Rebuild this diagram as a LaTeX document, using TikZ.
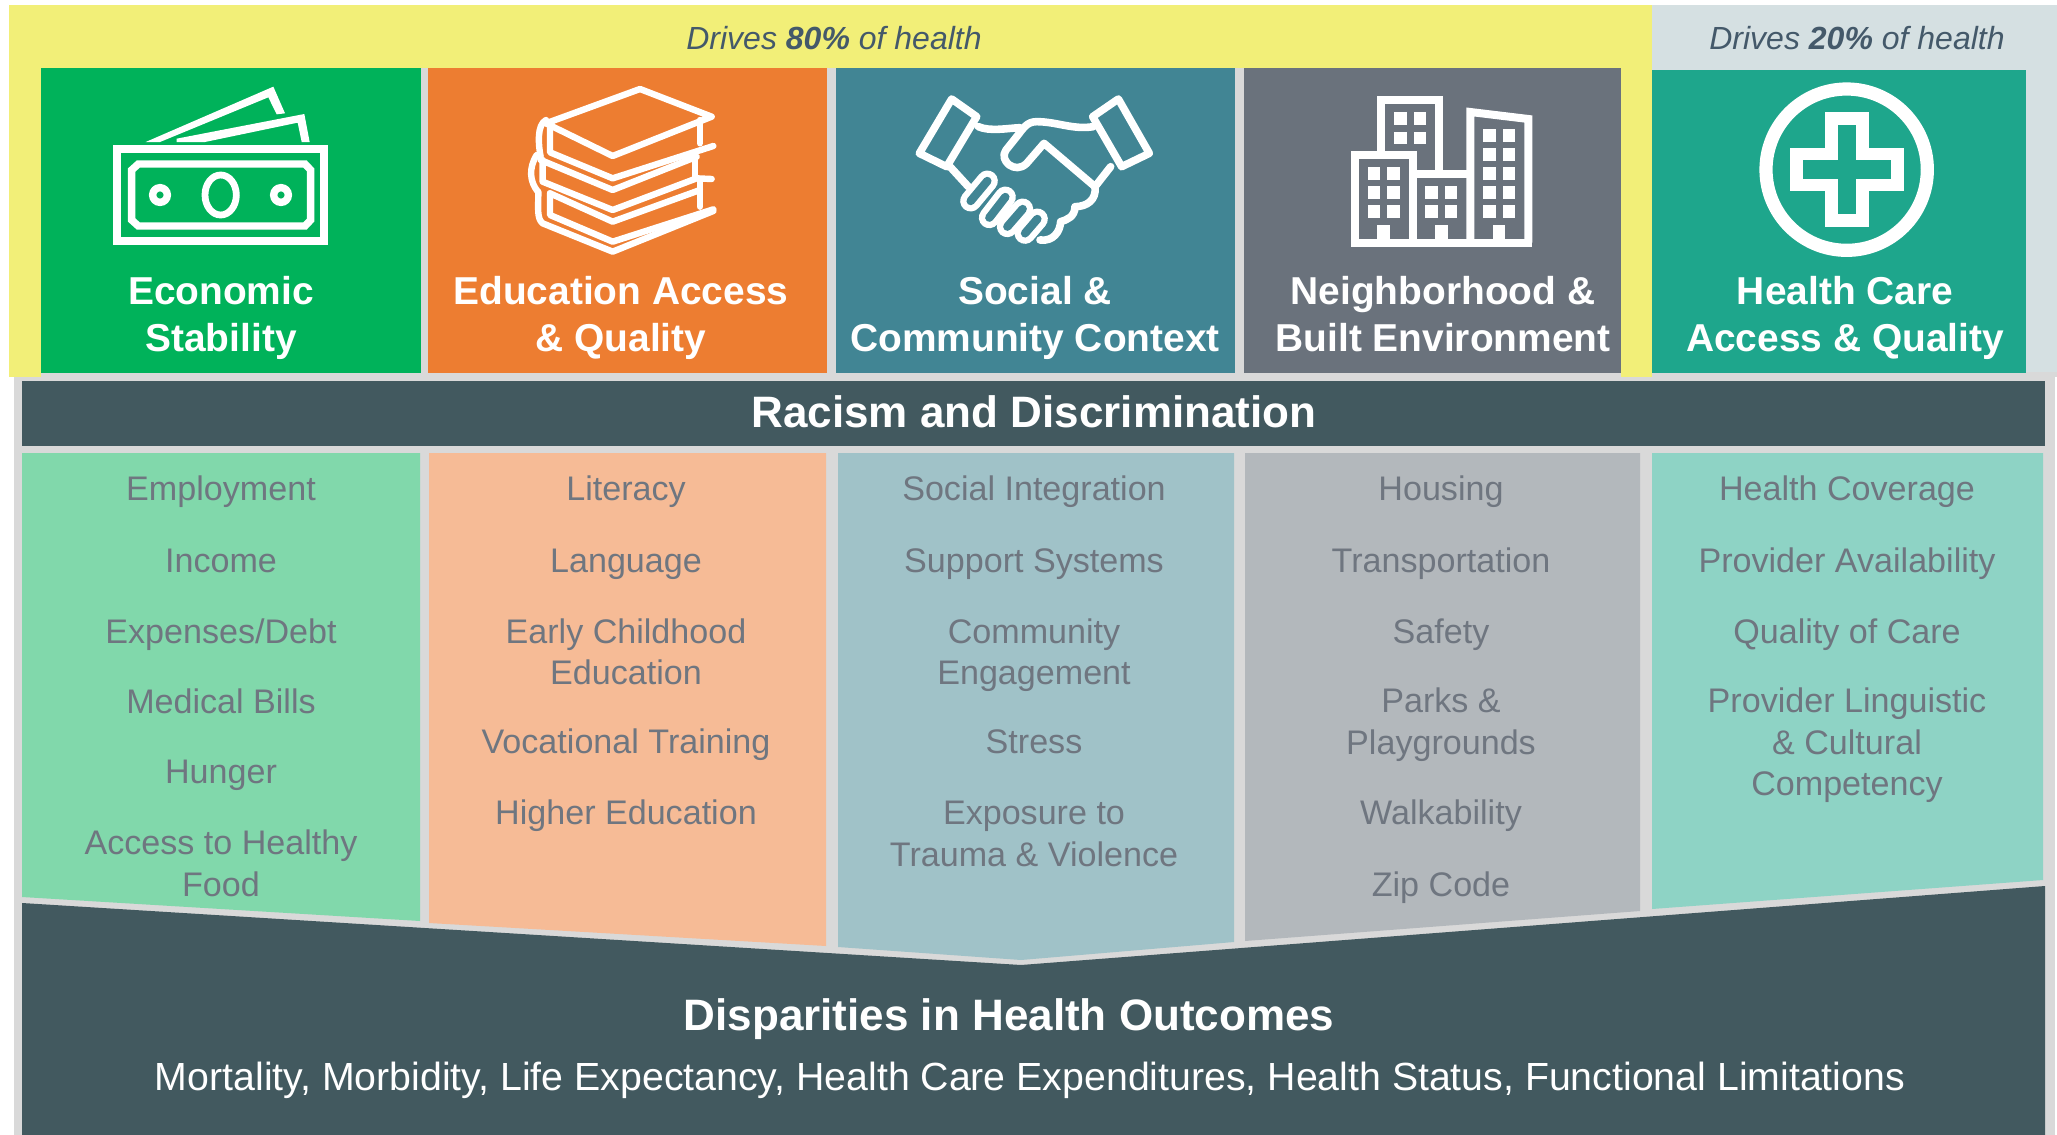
\documentclass[tikz,border=0pt]{standalone}
\usepackage{fontspec}
\setmainfont{Liberation Sans}
\definecolor{cgreen}{HTML}{00B25A}
\definecolor{corange}{HTML}{ED7D31}
\definecolor{cteal}{HTML}{418594}
\definecolor{cslate}{HTML}{6A727C}
\definecolor{cmint}{HTML}{1EA68C}
\definecolor{lgreen}{HTML}{81D8AB}
\definecolor{lorange}{HTML}{F6BB96}
\definecolor{lteal}{HTML}{A0C2C8}
\definecolor{lslate}{HTML}{B3B8BC}
\definecolor{lmint}{HTML}{8ED3C5}
\definecolor{cdark}{HTML}{42595F}
\definecolor{cyellow}{HTML}{F2EF78}
\definecolor{cband}{HTML}{D5E0E2}
\definecolor{cframe}{HTML}{D9D9D9}
\definecolor{ctext}{HTML}{6F7680}
\definecolor{cdrive}{HTML}{44596A}
\tikzset{
  item/.style={text=ctext,font=\fontsize{17.05}{20.8}\selectfont,align=center,inner sep=0pt,yshift=-2pt},
  head/.style={text=white,font=\fontsize{19.45}{23.5}\selectfont\bfseries,align=center,inner sep=0pt,yshift=-2.5pt},
  drive/.style={text=cdrive,font=\fontsize{16}{20}\selectfont\itshape,inner sep=0pt},
  bartitle/.style={text=white,font=\fontsize{22}{26}\selectfont\bfseries,inner sep=0pt},
  barsub/.style={text=white,font=\fontsize{19.63}{23}\selectfont,inner sep=0pt},
  icon/.style={draw=white,line join=miter,fill=none},
  win/.style={fill=white,draw=none}
}
\newcommand{\st}{\strut}
\begin{document}
\begin{tikzpicture}[x=0.5pt,y=-0.5pt]
\useasboundingbox (0,0) rectangle (2057,1135);
% bands
\fill[cband] (1652,5) rectangle (2057,376);
\fill[cyellow] (9,5) rectangle (1652,377);
\fill[cframe] (41,68) rectangle (1621,377);
\fill[cframe] (1652,372) rectangle (2057,377);
\fill[cframe] (14,377) rectangle (2055,1135);
% tiles
\fill[cgreen] (41,68) rectangle (421,373);
\fill[corange] (428,68) rectangle (827,373);
\fill[cteal] (836,68) rectangle (1235,373);
\fill[cslate] (1244,68) rectangle (1621,373);
\fill[cmint] (1652,70) rectangle (2026,373);
% racism bar
\fill[cdark] (22,381) rectangle (2045,446);
% columns
\fill[lgreen] (22,453) -- (420,453) -- (420,921) -- (22,897) -- cycle;
\fill[lorange] (429,453) -- (826,453) -- (826,946) -- (429,923) -- cycle;
\fill[lteal] (838,453) -- (1234,453) -- (1234,942) -- (1021,960) -- (838,947) -- cycle;
\fill[lslate] (1245,453) -- (1640,453) -- (1640,911) -- (1245,941) -- cycle;
\fill[lmint] (1652,453) -- (2043,453) -- (2043,880) -- (1652,909) -- cycle;
% bottom
\fill[cdark] (22,903) -- (1021,965) -- (2045,886) -- (2045,1135) -- (22,1135) -- cycle;

% money icon
\begin{scope}[shift={(105,80)},x=0.16667pt,y=-0.16667pt]
\draw[icon,line width=4pt] (36,208) rectangle (658,482);
\draw[icon,line width=3.7pt] (100,252) -- (600,252) -- (617,270) -- (617,420) -- (600,438) -- (100,438) -- (80,420) -- (80,270) -- cycle;
\draw[icon,line width=3.4pt] (347,345) ellipse [x radius=47,y radius=60];
\draw[icon,line width=3.7pt] (165,345) circle [radius=22];
\draw[icon,line width=3.7pt] (528,345) circle [radius=22];
\fill[white] (122,186) -- (165,186) -- (490,52) -- (515,103) -- (540,100) -- (505,20) -- cycle;
\fill[white] (215,186) -- (300,186) -- (578,128) -- (590,186) -- (614,186) -- (598,102) -- (215,176) -- cycle;
\end{scope}

% books icon
\begin{scope}[shift={(520,75)},x=0.16667pt,y=-0.16667pt,every path/.style={icon,line width=3.2pt,line join=round,line cap=round}]
\draw (78,145) -- (360,42) -- (575,125) -- (278,243) -- cycle;
\draw (90,160) -- (90,232) -- (278,310) -- (580,213);
\draw (540,135) -- (540,205);
\draw (78,135) .. controls (50,150) and (55,210) .. (62,245);
\draw (62,255) -- (278,345) -- (530,245);
\draw (68,255) -- (68,320) -- (278,405) -- (530,310) -- (575,312);
\draw (525,245) -- (525,310);
\draw (50,240) .. controls (25,280) and (30,320) .. (52,348);
\draw (90,355) -- (278,440) -- (540,345);
\draw (90,355) -- (90,420) -- (278,500) -- (580,403);
\draw (540,320) -- (540,395);
\draw (55,350) .. controls (55,400) and (50,430) .. (68,445) -- (278,530) -- (580,408);
\end{scope}

% handshake icon
\begin{scope}[shift={(900,85)},x=0.16667pt,y=-0.16667pt,every path/.style={icon,line width=3.8pt,line join=round,line cap=round}]
\draw (155,42) -- (230,95) -- (140,245) -- (58,205) -- cycle;
\draw (655,42) -- (578,95) -- (665,245) -- (748,205) -- cycle;
\draw (235,125) .. controls (270,140) and (320,130) .. (360,128);
\draw (580,125) .. controls (520,135) and (470,110) .. (410,110) .. controls (380,110) and (370,130) .. (350,155) -- (318,195) .. controls (295,225) and (345,270) .. (380,235) -- (432,175) -- (585,305);
\draw (150,245) -- (205,305);
\draw (632,245) -- (585,305);
\draw (585,305) .. controls (590,345) and (560,365) .. (525,365) .. controls (525,395) and (500,405) .. (482,410) .. controls (480,440) and (460,470) .. (420,465);
\end{scope}
\begin{scope}[shift={(900,85)},x=0.16667pt,y=-0.16667pt,line cap=round]
\foreach \a/\b/\c/\d in {262/288/212/348,316/336/268/398,368/372/322/425,412/402/375/445}{
  \draw[white,line width=10.5pt] (\a,\b) -- (\c,\d);}
\foreach \a/\b/\c/\d in {262/288/212/348,316/336/268/398,368/372/322/425,412/402/375/445}{
  \draw[cteal,line width=4.2pt] (\a,\b) -- (\c,\d);}
\end{scope}

% buildings icon
\begin{scope}[shift={(1340,85)},x=0.16667pt,y=-0.16667pt]
\draw[icon,line width=4pt] (45,473) -- (45,209) -- (218,209) -- (218,473);
\draw[icon,line width=4pt] (124,209) -- (124,45) -- (297,45) -- (297,267);
\draw[icon,line width=4pt] (218,267) -- (391,267);
\draw[icon,line width=4pt] (391,473) -- (391,81) -- (565,102) -- (565,473);
\draw[icon,line width=4pt] (33,473) -- (577,473);
\foreach \p/\q in {162/82,221/82,162/140,221/140,
  83/246,141/246,83/303,141/303,83/361,141/361,
  256/303,314/303,256/361,314/361,
  430/132,488/132,430/189,488/189,430/246,488/246,430/303,488/303,430/361,488/361}{
  \fill[win] (\p,\q) rectangle ++(38,38);}
\foreach \p in {112,285,458}{\fill[win] (\p,420) rectangle ++(38,45);}
\end{scope}

% cross icon
\begin{scope}[shift={(1740,70)},x=0.16667pt,y=-0.16667pt]
\draw[icon,line width=6.6pt] (320,299) circle [radius=242];
\draw[icon,line width=6.4pt] (275,146) -- (367,146) -- (367,252) -- (473,252) -- (473,345) -- (367,345) -- (367,452) -- (275,452) -- (275,345) -- (169,345) -- (169,252) -- (275,252) -- cycle;
\end{scope}

% top labels
\node[drive] (d80) at (834,38) {Drives \textbf{80\%} of health};
\node[drive] (d20) at (1857,38) {Drives \textbf{20\%} of health};
% headers
\node[head] (h1) at (221,314) {\st Economic\\\st Stability};
\node[head] (h2) at (621,314) {\st Education Access\\\st \& Quality};
\node[head] (h3) at (1035,314) {\st Social \&\\\st Community Context};
\node[head] (h4) at (1443,314) {\st Neighborhood \&\\\st Built Environment};
\node[head] (h5) at (1845,314) {\st Health Care\\\st Access \& Quality};
\node[bartitle] (rac) at (1034,412) {Racism and Discrimination};
\node[bartitle] (dis) at (1009,1019) {Disparities in Health Outcomes};
\node[barsub] (out) at (1030,1080) {Mortality, Morbidity, Life Expectancy, Health Care Expenditures, Health Status, Functional Limitations};
% column 1
\node[item] (a1) at (221,488) {\st Employment};
\node[item] (a2) at (221,560) {\st Income};
\node[item] (a3) at (221,631) {\st Expenses/Debt};
\node[item] (a4) at (221,701) {\st Medical Bills};
\node[item] (a5) at (221,771) {\st Hunger};
\node[item] (a6) at (221,863) {\st Access to Healthy\\\st Food};
% column 2
\node[item] (b1) at (626,488) {\st Literacy};
\node[item] (b2) at (626,560) {\st Language};
\node[item] (b3) at (626,651.5) {\st Early Childhood\\\st Education};
\node[item] (b4) at (626,741) {\st Vocational Training};
\node[item] (b5) at (626,812) {\st Higher Education};
% column 3
\node[item] (c1) at (1034,488) {\st Social Integration};
\node[item] (c2) at (1034,560) {\st Support Systems};
\node[item] (c3) at (1034,651.5) {\st Community\\\st Engagement};
\node[item] (c4) at (1034,741) {\st Stress};
\node[item] (c5) at (1034,833) {\st Exposure to\\\st Trauma \& Violence};
% column 4
\node[item] (e1) at (1441,488) {\st Housing};
\node[item] (e2) at (1441,560) {\st Transportation};
\node[item] (e3) at (1441,631) {\st Safety};
\node[item] (e4) at (1441,721) {\st Parks \&\\\st Playgrounds};
\node[item] (e5) at (1441,812) {\st Walkability};
\node[item] (e6) at (1441,884) {\st Zip Code};
% column 5
\node[item] (f1) at (1847,488) {\st Health Coverage};
\node[item] (f2) at (1847,560) {\st Provider Availability};
\node[item] (f3) at (1847,631) {\st Quality of Care};
\node[item] (f4) at (1847,742) {\st Provider Linguistic\\\st \& Cultural\\\st Competency};
\end{tikzpicture}
\end{document}
